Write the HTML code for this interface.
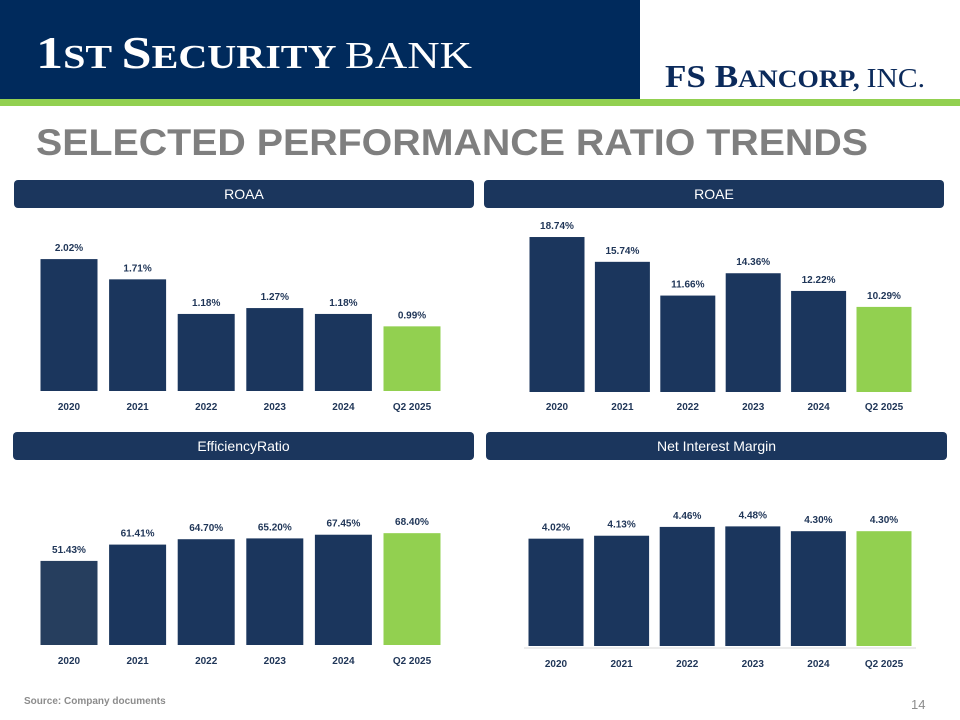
<!DOCTYPE html>
<html><head><meta charset="utf-8"><style>
html,body{margin:0;padding:0;background:#fff;}
svg{display:block;}
</style></head><body>
<svg id="s" width="960" height="720" viewBox="0 0 960 720" xmlns="http://www.w3.org/2000/svg" font-family="Liberation Sans, sans-serif">
<rect x="0" y="0" width="960" height="99" fill="#002a5c"/>
<rect x="640" y="0" width="320" height="99" fill="#fff"/>
<rect x="0" y="99" width="960" height="7" fill="#92d050"/>
<text x="36" y="68" fill="#fff" font-family="Liberation Serif, serif" textLength="436" lengthAdjust="spacingAndGlyphs"><tspan font-size="46" font-weight="bold">1</tspan><tspan font-size="34" font-weight="bold">ST </tspan><tspan font-size="46" font-weight="bold">S</tspan><tspan font-size="34" font-weight="bold">ECURITY </tspan><tspan font-size="38">BANK</tspan></text>
<text x="665" y="87" fill="#0b2a5b" font-family="Liberation Serif, serif" textLength="260" lengthAdjust="spacingAndGlyphs"><tspan font-size="32" font-weight="bold">FS B</tspan><tspan font-size="25" font-weight="bold">ANCORP, </tspan><tspan font-size="27">INC.</tspan></text>
<text x="36" y="155" fill="#7f7f7f" font-weight="bold" font-size="37" textLength="832" lengthAdjust="spacingAndGlyphs">SELECTED PERFORMANCE RATIO TRENDS</text>
<g id="charts"></g>
<text x="24" y="704" fill="#8c8c8c" font-weight="bold" font-size="10">Source: Company documents</text>
<text x="911" y="709" fill="#8c8c8c" font-size="13">14</text>
</svg>
<script>
const categories = ["2020","2021","2022","2023","2024","Q2 2025"];
const roaaValues = [2.02,1.71,1.18,1.27,1.18,0.99];
const roaaLabels = ["2.02%","1.71%","1.18%","1.27%","1.18%","0.99%"];
const roaeValues = [18.74,15.74,11.66,14.36,12.22,10.29];
const roaeLabels = ["18.74%","15.74%","11.66%","14.36%","12.22%","10.29%"];
const effValues = [51.43,61.41,64.70,65.20,67.45,68.40];
const effLabels = ["51.43%","61.41%","64.70%","65.20%","67.45%","68.40%"];
const nimValues = [4.02,4.13,4.46,4.48,4.30,4.30];
const nimLabels = ["4.02%","4.13%","4.46%","4.48%","4.30%","4.30%"];

const NS="http://www.w3.org/2000/svg";
const root=document.getElementById('charts');
function mk(tag,attrs,parent){const e=document.createElementNS(NS,tag);for(const k in attrs)e.setAttribute(k,attrs[k]);parent.appendChild(e);return e;}

function chart(cfg,values,labels){
  const g=mk('g',{},root);
  
  
  const hdr=mk('rect',{x:cfg.hx,y:cfg.hy,width:cfg.hw,height:28,rx:4,fill:'#1b365d'},g);
  
  
  const ht=mk('text',{x:cfg.hx+cfg.hw/2,y:cfg.hy+19,'text-anchor':'middle',fill:'#fff','font-size':14},g);
  ht.textContent=cfg.title;
  
  
  if(cfg.axis){
    const al=mk('line',{x1:cfg.axis[0],x2:cfg.axis[1],y1:cfg.base+2,y2:cfg.base+2,stroke:'#d9d9d9','stroke-width':1},g);
    
    
  }
  const y=v=>cfg.base-v*cfg.scale;
  const x=i=>cfg.x0+i*cfg.step;
  values.forEach((v,i)=>{
    let fill = i===values.length-1 ? '#92d050' : (cfg.firstColor && i===0 ? cfg.firstColor : '#1b365d');
    const r=mk('rect',{x:x(i)-cfg.bw/2,y:y(v),width:cfg.bw,height:cfg.base-y(v),fill:fill},g);
    
    
    const t=mk('text',{x:x(i),y:y(v)-8,'text-anchor':'middle',fill:'#1f3557','font-size':10,'font-weight':'bold'},g);
    t.textContent=labels[i];
    
    
    const c=mk('text',{x:x(i),y:cfg.base+cfg.catOff,'text-anchor':'middle',fill:'#1f3557','font-size':10,'font-weight':'bold'},g);
    c.textContent=categories[i];
    
    
  });
}
chart({name:'roaa',title:'ROAA',hx:14,hy:180,hw:460,base:391,scale:65.3,x0:69,step:68.6,bw:57,catOff:19},roaaValues,roaaLabels);
chart({name:'roae',title:'ROAE',hx:484,hy:180,hw:460,base:392,scale:8.27,x0:557,step:65.4,bw:55,catOff:18},roaeValues,roaeLabels);
chart({name:'efficiency',title:'EfficiencyRatio',hx:13,hy:432,hw:461,base:645,scale:1.635,x0:69,step:68.6,bw:57,catOff:19,firstColor:'#263e5e'},effValues,effLabels);
chart({name:'nim',title:'Net Interest Margin',hx:486,hy:432,hw:461,base:646,scale:26.7,x0:556,step:65.6,bw:55,catOff:21,axis:[524,916]},nimValues,nimLabels);
</script>
</body></html>
